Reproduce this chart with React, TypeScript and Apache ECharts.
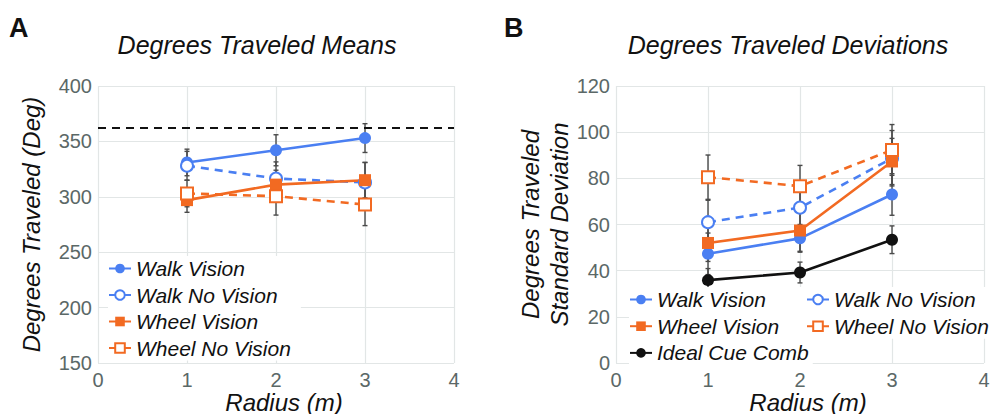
import React, { useEffect, useRef } from "react";
import * as echarts from "echarts";

// ---------- data ----------
const radii = [1, 2, 3];
const xTicks = [0, 1, 2, 3, 4];

// Panel A: means (deg)
const fullCircle = 362;
const walkVisionMean = [331, 342, 353];
const walkVisionMeanErr = [12, 14, 13];
const walkNoVisionMean = [328, 316.5, 313];
const walkNoVisionMeanErr = [13, 15, 18];
const wheelVisionMean = [297, 311, 315];
const wheelVisionMeanErr = [11, 13, 16];
const wheelNoVisionMean = [303, 300.5, 293];
const wheelNoVisionMeanErr = [12, 17, 19];

// Panel B: standard deviations (deg)
const walkVisionSD = [47.3, 54, 73];
const walkVisionSDErr = [9, 6, 9];
const walkNoVisionSD = [61, 67.3, 88.7];
const walkNoVisionSDErr = [9.5, 8, 12];
const wheelVisionSD = [52, 57.4, 87.3];
const wheelVisionSDErr = [8, 9, 10];
const wheelNoVisionSD = [80.5, 76.6, 92.3];
const wheelNoVisionSDErr = [9.6, 9, 11];
const idealSD = [35.9, 39.2, 53.4];
const idealSDErr = [5, 4.5, 6];

const BLUE = "#4a7ff2";
const ORANGE = "#f26a22";
const BLACK = "#111111";
const GRID = "#e2e6e6";
const TICK = "#5b6867";
const FONT = "Liberation Sans, Arial, Helvetica, sans-serif";

type Style = { color: string; dashed: boolean; hollow: boolean; symbol: string };
const sty: Record<string, Style> = {
  "Walk Vision": { color: BLUE, dashed: false, hollow: false, symbol: "circle" },
  "Walk No Vision": { color: BLUE, dashed: true, hollow: true, symbol: "circle" },
  "Wheel Vision": { color: ORANGE, dashed: false, hollow: false, symbol: "rect" },
  "Wheel No Vision": { color: ORANGE, dashed: true, hollow: true, symbol: "rect" },
  "Ideal Cue Comb": { color: BLACK, dashed: false, hollow: false, symbol: "circle" },
};

function lineSeries(name: string, vals: number[], idx: number) {
  const s = sty[name];
  return {
    type: "line",
    name,
    xAxisIndex: idx,
    yAxisIndex: idx,
    data: radii.map((x, i) => [x, vals[i]]),
    symbol: s.symbol,
    symbolSize: 12,
    z: 3,
    lineStyle: { color: s.color, width: 2.6, type: s.dashed ? [8, 6] : "solid" },
    itemStyle: s.hollow
      ? { color: "#ffffff", borderColor: s.color, borderWidth: 2 }
      : { color: s.color, borderWidth: 0 },
  };
}

function errSeries(vals: number[], errs: number[], idx: number) {
  return {
    type: "custom",
    xAxisIndex: idx,
    yAxisIndex: idx,
    z: 1,
    silent: true,
    encode: { x: 0, y: [1, 2] },
    data: radii.map((x, i) => [x, vals[i] - errs[i], vals[i] + errs[i]]),
    renderItem: (params: any, api: any) => {
      const x = api.value(0);
      const lo = api.coord([x, api.value(1)]);
      const hi = api.coord([x, api.value(2)]);
      const st = { stroke: "#4a4a4a", lineWidth: 1.4 };
      return {
        type: "group",
        children: [
          { type: "line", shape: { x1: hi[0], y1: hi[1], x2: lo[0], y2: lo[1] }, style: st },
          { type: "line", shape: { x1: hi[0] - 2.5, y1: hi[1], x2: hi[0] + 2.5, y2: hi[1] }, style: st },
          { type: "line", shape: { x1: lo[0] - 2.5, y1: lo[1], x2: lo[0] + 2.5, y2: lo[1] }, style: st },
        ],
      };
    },
  };
}

function xAxis(idx: number) {
  return {
    type: "value",
    gridIndex: idx,
    min: xTicks[0],
    max: xTicks[xTicks.length - 1],
    interval: 1,
    axisLine: { show: false },
    axisTick: { show: false },
    splitLine: { show: true, lineStyle: { color: GRID, width: 1.2 } },
    axisLabel: { color: TICK, fontSize: 20, fontFamily: FONT, margin: 7 },
    name: "Radius (m)",
    nameLocation: "middle",
    nameGap: 27,
    nameMoveOverlap: false,
    nameTextStyle: {
      color: BLACK,
      fontSize: 24,
      fontStyle: "italic",
      fontFamily: FONT,
      padding: [0, 0, 0, 16],
    },
  };
}

function yAxis(idx: number, min: number, max: number, interval: number, name: string, gap: number) {
  return {
    type: "value",
    gridIndex: idx,
    min,
    max,
    interval,
    axisLine: { show: false },
    axisTick: { show: false },
    splitLine: { show: true, lineStyle: { color: GRID, width: 1.2 } },
    axisLabel: { color: TICK, fontSize: 20, fontFamily: FONT, margin: 6 },
    name,
    nameLocation: "middle",
    nameGap: gap,
    nameMoveOverlap: false,
    nameTextStyle: {
      color: BLACK,
      fontSize: 24,
      fontStyle: "italic",
      fontFamily: FONT,
      lineHeight: 29,
    },
  };
}

const legendText = { fontSize: 21, fontStyle: "italic", fontFamily: FONT, color: BLACK };

export default function App() {
  const ref = useRef<HTMLDivElement>(null);
  useEffect(() => {
    if (!ref.current) return;
    const chart = echarts.init(ref.current, undefined, { renderer: "svg" });
    const option: any = {
      animation: false,
      backgroundColor: "#ffffff",
      textStyle: { fontFamily: FONT },
      grid: [
        { left: 98, width: 356, top: 86, height: 277, containLabel: false, outerBoundsMode: "none" },
        { left: 616, width: 368, top: 86, height: 277, containLabel: false, outerBoundsMode: "none" },
      ],
      xAxis: [xAxis(0), xAxis(1)],
      yAxis: [
        yAxis(0, 150, 400, 50, "Degrees Traveled (Deg)", 52),
        yAxis(1, 0, 120, 20, "Degrees Traveled\nStandard Deviation", 42),
      ],
      legend: [
        {
          data: ["Walk Vision", "Walk No Vision", "Wheel Vision", "Wheel No Vision"],
          orient: "vertical",
          left: 108,
          top: 256,
          itemWidth: 22,
          itemHeight: 12,
          itemGap: 5.5,
          padding: [2, 10, 2, 0],
          backgroundColor: "#ffffff",
          textStyle: legendText,
          selectedMode: false,
        },
        {
          data: ["Walk Vision", "Wheel Vision", "Ideal Cue Comb"],
          orient: "vertical",
          left: 629,
          top: 287,
          itemWidth: 22,
          itemHeight: 12,
          itemGap: 5.7,
          padding: [2, 4, 2, 0],
          backgroundColor: "#ffffff",
          textStyle: legendText,
          selectedMode: false,
        },
        {
          data: ["Walk No Vision", "Wheel No Vision"],
          orient: "vertical",
          left: 804,
          top: 287,
          itemWidth: 22,
          itemHeight: 12,
          itemGap: 5.7,
          padding: [2, 4, 2, 2],
          backgroundColor: "#ffffff",
          textStyle: legendText,
          selectedMode: false,
        },
      ],
      graphic: [
        { type: "text", left: 9, top: 14, style: { text: "A", font: `bold 27px ${FONT}`, fill: BLACK } },
        { type: "text", left: 504, top: 14, style: { text: "B", font: `bold 27px ${FONT}`, fill: BLACK } },
        {
          type: "text",
          x: 257,
          y: 45,
          style: {
            text: "Degrees Traveled Means",
            font: `italic 25px ${FONT}`,
            fill: BLACK,
            align: "center",
            verticalAlign: "middle",
          },
        },
        {
          type: "text",
          x: 788,
          y: 45,
          style: {
            text: "Degrees Traveled Deviations",
            font: `italic 25px ${FONT}`,
            fill: BLACK,
            align: "center",
            verticalAlign: "middle",
          },
        },
      ],
      series: [
        errSeries(walkVisionMean, walkVisionMeanErr, 0),
        errSeries(walkNoVisionMean, walkNoVisionMeanErr, 0),
        errSeries(wheelVisionMean, wheelVisionMeanErr, 0),
        errSeries(wheelNoVisionMean, wheelNoVisionMeanErr, 0),
        {
          type: "line",
          name: "Full Circle",
          xAxisIndex: 0,
          yAxisIndex: 0,
          data: [
            [xTicks[0], fullCircle],
            [xTicks[xTicks.length - 1], fullCircle],
          ],
          symbol: "none",
          z: 2,
          lineStyle: { color: BLACK, width: 2, type: [8, 6] },
        },
        lineSeries("Walk Vision", walkVisionMean, 0),
        lineSeries("Walk No Vision", walkNoVisionMean, 0),
        lineSeries("Wheel Vision", wheelVisionMean, 0),
        lineSeries("Wheel No Vision", wheelNoVisionMean, 0),

        errSeries(walkVisionSD, walkVisionSDErr, 1),
        errSeries(walkNoVisionSD, walkNoVisionSDErr, 1),
        errSeries(wheelVisionSD, wheelVisionSDErr, 1),
        errSeries(wheelNoVisionSD, wheelNoVisionSDErr, 1),
        errSeries(idealSD, idealSDErr, 1),
        lineSeries("Ideal Cue Comb", idealSD, 1),
        lineSeries("Walk Vision", walkVisionSD, 1),
        lineSeries("Walk No Vision", walkNoVisionSD, 1),
        lineSeries("Wheel Vision", wheelVisionSD, 1),
        lineSeries("Wheel No Vision", wheelNoVisionSD, 1),
      ],
    };
    chart.setOption(option);
    return () => chart.dispose();
  }, []);
  return (
    <div
      ref={ref}
      style={{ position: "fixed", left: 0, top: 0, width: 990, height: 414, background: "#fff" }}
    />
  );
}
